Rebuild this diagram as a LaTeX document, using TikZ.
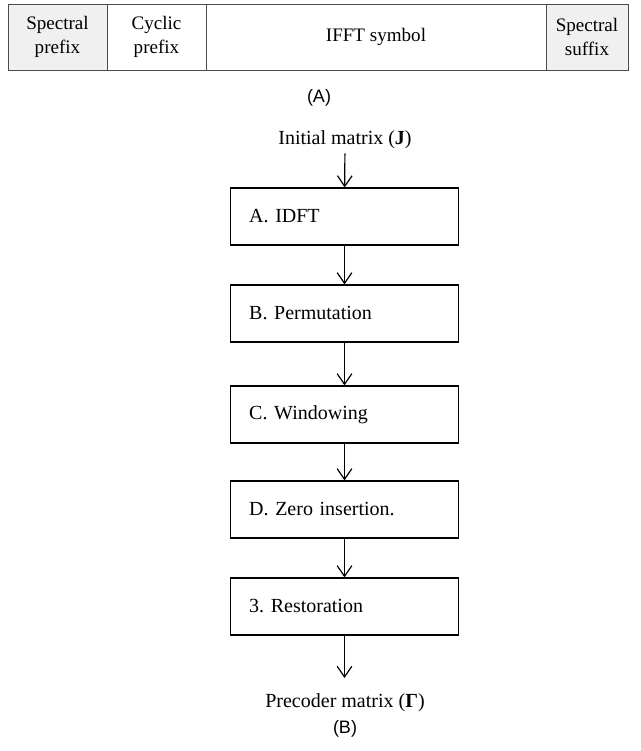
\documentclass[tikz,border=0pt]{standalone}
\usepackage{fontspec}
\setmainfont{Liberation Serif}
\setsansfont{Liberation Sans}
\usetikzlibrary{arrows.meta,positioning}
\frenchspacing

\tikzset{
	cell/.style={draw=black!70, line width=0.6pt, minimum height=49.5pt,
		inner sep=0pt, align=center, font=\fontsize{14.3}{18}\selectfont},
	graycell/.style={cell, fill=black!6},
	stepbox/.style={draw, line width=0.9pt, minimum height=42.75pt,
		text width=143pt, inner xsep=14pt, align=left,
		font=\fontsize{15}{18}\selectfont},
	flowtext/.style={font=\fontsize{15}{18}\selectfont, inner sep=3pt},
	flowarrow/.style={-{Straight Barb[length=8pt,width=11pt]}, line width=0.9pt},
	caption/.style={font=\sffamily\fontsize{13.5}{16}\selectfont}
}

\begin{document}
\begin{tikzpicture}[x=0.75pt, y=-0.75pt]
	\useasboundingbox (0,0) rectangle (641,751);

	% (A) Rahmen
	\node[graycell, minimum width=74.25pt] (spre) at (57.5, 37) {Spectral\\prefix};
	\node[cell, minimum width=74.25pt] (cpre) at (156.5, 37) {Cyclic\\prefix};
	\node[cell, minimum width=255pt] (ifft) at (376, 37) {IFFT symbol};
	\node[graycell, minimum width=61.5pt] (ssuf) at (587, 37) {Spectral\\suffix};
	\node[caption] (capa) at (319, 98) {(A)};

	% (B) Ablauf
	\node[flowtext] (init) at (345, 140) {Initial matrix (\textbf{J})};
	\node[stepbox] (idft) at (344.5, 216.5) {A. IDFT};
	\node[stepbox] (perm) at (344.5, 313.5) {B. Permutation};
	\node[stepbox] (wind) at (344.5, 414.5) {C. Windowing};
	\node[stepbox] (zero) at (344.5, 509.5) {D. Zero insertion.};
	\node[stepbox] (rest) at (344.5, 606.5) {3. Restoration};
	\coordinate (outend) at (344.5, 678);
	\node[flowtext] (prec) at (345, 703) {Precoder matrix (\textbf{Γ})};
	\node[caption] (capb) at (345, 729) {(B)};

	% Pfeile
	\draw[flowarrow] (init) -- (idft);
	\draw[flowarrow] (idft) -- (perm);
	\draw[flowarrow] (perm) -- (wind);
	\draw[flowarrow] (wind) -- (zero);
	\draw[flowarrow] (zero) -- (rest);
	\draw[flowarrow] (rest) -- (outend);
\end{tikzpicture}
\end{document}
